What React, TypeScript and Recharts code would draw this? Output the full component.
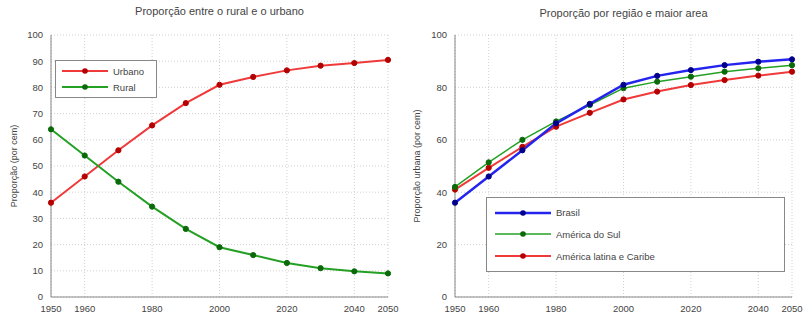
import * as React from 'react';
import { CartesianGrid, Line, LineChart, XAxis, YAxis } from 'recharts';

// Anos e valores
const years = [1950, 1960, 1970, 1980, 1990, 2000, 2010, 2020, 2030, 2040, 2050];
const urbano = [36, 46, 56, 65.5, 74, 81, 84, 86.5, 88.3, 89.3, 90.5];
const rural = [64, 54, 44, 34.5, 26, 19, 16, 13, 11, 9.8, 9];

const brasil = [36, 46, 56, 66.3, 73.7, 81, 84.4, 86.6, 88.5, 89.8, 90.7];
const americaSul = [42, 51.4, 60, 67, 73.3, 79.7, 82.2, 84.1, 86, 87.3, 88.5];
const americaLatina = [41, 49.3, 57.3, 65, 70.3, 75.4, 78.4, 80.9, 82.8, 84.5, 86];

const xTicks = [1950, 1960, 1980, 2000, 2020, 2040, 2050];
const leftYTicks = [0, 10, 20, 30, 40, 50, 60, 70, 80, 90, 100];
const rightYTicks = [0, 20, 40, 60, 80, 100];

const RED = '#f03a3a';
const RED_DOT = '#b40000';
const GREEN = '#24a024';
const GREEN_DOT = '#0a6a0a';
const BLUE = '#2424ee';
const BLUE_DOT = '#00008c';

const FONT = 'Arial, "Liberation Sans", sans-serif';
const TEXT = '#444';

const leftData = years.map((y, i) => ({ year: y, urbano: urbano[i], rural: rural[i] }));
const rightData = years.map((y, i) => ({
  year: y,
  brasil: brasil[i],
  sul: americaSul[i],
  latina: americaLatina[i],
}));

const tickStyle = { fontSize: 9.5, fill: TEXT, fontFamily: FONT };
const dot = (c: string) => ({ r: 2.6, fill: c, stroke: c, strokeWidth: 1 });

function LegendBox({
  items,
  style,
  lineW,
}: {
  items: { label: string; color: string; dot: string; width: number }[];
  style: React.CSSProperties;
  lineW: number;
}) {
  return (
    <div
      style={{
        position: 'absolute',
        background: '#fff',
        border: '1px solid #888',
        boxSizing: 'border-box',
        fontFamily: FONT,
        fontSize: 9.5,
        color: TEXT,
        display: 'flex',
        flexDirection: 'column',
        justifyContent: 'space-around',
        ...style,
      }}
    >
      {items.map((it) => (
        <div key={it.label} style={{ display: 'flex', alignItems: 'center' }}>
          <svg width={lineW} height={10} style={{ marginRight: 5 }}>
            <line x1={0} y1={5} x2={lineW} y2={5} stroke={it.color} strokeWidth={it.width} />
            <circle cx={lineW / 2} cy={5} r={2.8} fill={it.dot} />
          </svg>
          <span>{it.label}</span>
        </div>
      ))}
    </div>
  );
}

export default function App(): React.JSX.Element {
  return (
    <div style={{ position: 'absolute', left: 0, top: 0, width: 806, height: 330, background: '#fff' }}>
      <div
        style={{
          position: 'absolute',
          left: 51,
          width: 337,
          top: 5,
          textAlign: 'center',
          fontFamily: FONT,
          fontSize: 11,
          color: TEXT,
        }}
      >
        Proporção entre o rural e o urbano
      </div>
      <div
        style={{
          position: 'absolute',
          left: 455,
          width: 337,
          top: 7,
          textAlign: 'center',
          fontFamily: FONT,
          fontSize: 11,
          color: TEXT,
        }}
      >
        Proporção por região e maior area
      </div>

      <div style={{ position: 'absolute', left: 0, top: 0 }}>
        <LineChart width={403} height={330} data={leftData} margin={{ top: 35, right: 15, bottom: 0, left: 0 }}>
          <CartesianGrid stroke="#d0d0d0" strokeDasharray="1 2" />
          <XAxis
            dataKey="year"
            type="number"
            domain={[1950, 2050]}
            ticks={xTicks}
            tick={tickStyle}
            tickLine={false}
            axisLine={{ stroke: '#888' }}
            height={33}
            interval={0}
          />
          <XAxis xAxisId="top" orientation="top" dataKey="year" type="number" domain={[1950, 2050]} tick={false} tickLine={false} axisLine={{ stroke: '#888' }} height={0} />
          <YAxis
            domain={[0, 100]}
            ticks={leftYTicks}
            tick={tickStyle}
            tickLine={false}
            axisLine={{ stroke: '#888' }}
            width={51}
            interval={0}
            label={{ value: 'Proporção (por cem)', angle: -90, position: 'insideLeft', offset: 14, style: { fontSize: 9, fill: TEXT, fontFamily: FONT, textAnchor: 'middle' } }}
          />
          <YAxis yAxisId="right" orientation="right" domain={[0, 100]} tick={false} tickLine={false} axisLine={{ stroke: '#888' }} width={0} />
          <Line dataKey="urbano" stroke={RED} strokeWidth={2} dot={dot(RED_DOT)} isAnimationActive={false} />
          <Line dataKey="rural" stroke={GREEN} strokeWidth={2} dot={dot(GREEN_DOT)} isAnimationActive={false} />
        </LineChart>
      </div>

      <div style={{ position: 'absolute', left: 403, top: 0 }}>
        <LineChart width={403} height={330} data={rightData} margin={{ top: 35, right: 14, bottom: 0, left: 0 }}>
          <CartesianGrid stroke="#d0d0d0" strokeDasharray="1 2" />
          <XAxis
            dataKey="year"
            type="number"
            domain={[1950, 2050]}
            ticks={xTicks}
            tick={tickStyle}
            tickLine={false}
            axisLine={{ stroke: '#888' }}
            height={33}
            interval={0}
          />
          <XAxis xAxisId="top" orientation="top" dataKey="year" type="number" domain={[1950, 2050]} tick={false} tickLine={false} axisLine={{ stroke: '#888' }} height={0} />
          <YAxis
            domain={[0, 100]}
            ticks={rightYTicks}
            tick={tickStyle}
            tickLine={false}
            axisLine={{ stroke: '#888' }}
            width={52}
            interval={0}
            label={{ value: 'Proporção urbana (por cem)', angle: -90, position: 'insideLeft', offset: 14, style: { fontSize: 9, fill: TEXT, fontFamily: FONT, textAnchor: 'middle' } }}
          />
          <YAxis yAxisId="right" orientation="right" domain={[0, 100]} tick={false} tickLine={false} axisLine={{ stroke: '#888' }} width={0} />
          <Line dataKey="latina" stroke={RED} strokeWidth={2} dot={dot(RED_DOT)} isAnimationActive={false} />
          <Line dataKey="sul" stroke={GREEN} strokeWidth={1.5} dot={dot(GREEN_DOT)} isAnimationActive={false} />
          <Line dataKey="brasil" stroke={BLUE} strokeWidth={2.5} dot={dot(BLUE_DOT)} isAnimationActive={false} />
        </LineChart>
      </div>

      <LegendBox
        style={{ left: 55, top: 60, width: 102, height: 38, padding: '2px 6px' }}
        lineW={46}
        items={[
          { label: 'Urbano', color: RED, dot: RED_DOT, width: 2 },
          { label: 'Rural', color: GREEN, dot: GREEN_DOT, width: 2 },
        ]}
      />
      <LegendBox
        style={{ left: 486, top: 197, width: 299, height: 75, padding: '4px 8px' }}
        lineW={56}
        items={[
          { label: 'Brasil', color: BLUE, dot: BLUE_DOT, width: 2.5 },
          { label: 'América do Sul', color: GREEN, dot: GREEN_DOT, width: 1.5 },
          { label: 'América latina e Caribe', color: RED, dot: RED_DOT, width: 2 },
        ]}
      />
    </div>
  );
}
